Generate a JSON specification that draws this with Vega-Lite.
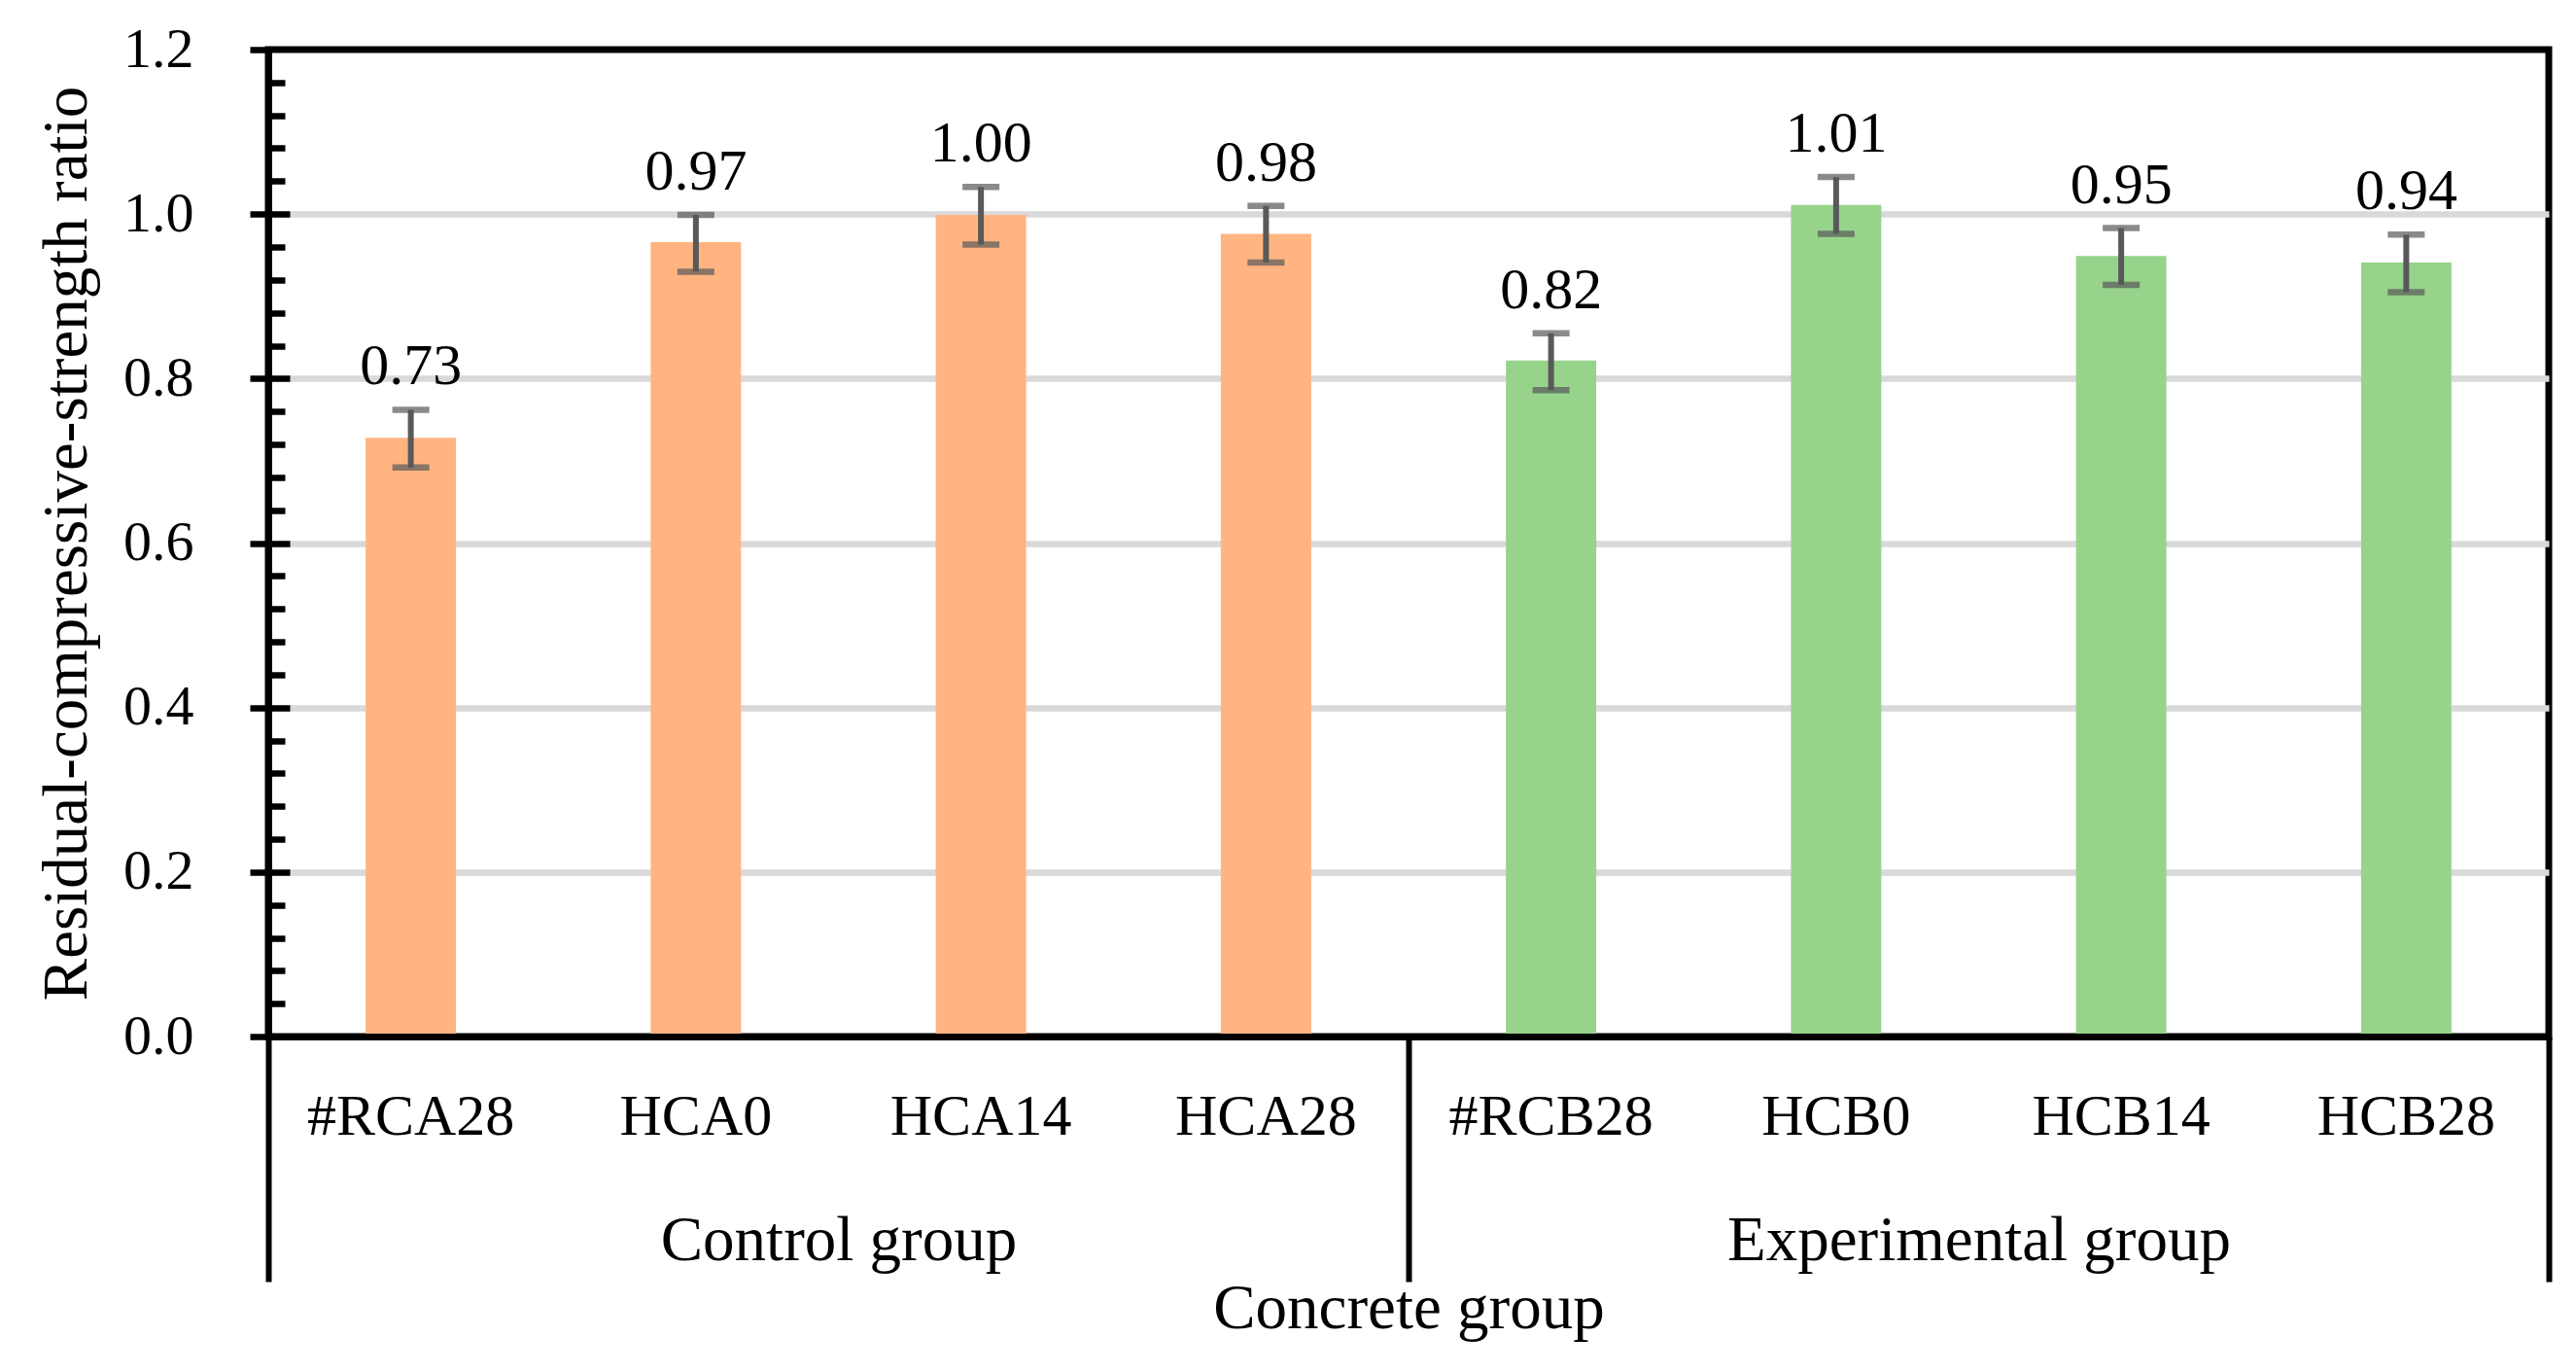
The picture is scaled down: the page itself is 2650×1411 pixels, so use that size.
{
  "$schema": "https://vega.github.io/schema/vega-lite/v6.json",
  "width": 2346,
  "height": 1015,
  "autosize": "none",
  "padding": {"left": 276, "top": 51, "right": 28, "bottom": 345},
  "background": "white",
  "config": {
    "view": {"stroke": "black", "strokeWidth": 7},
    "font": "Liberation Serif",
    "axis": {
      "labelFont": "Liberation Serif",
      "titleFont": "Liberation Serif",
      "labelColor": "black",
      "titleColor": "black",
      "titleFontWeight": "normal",
      "labelFontWeight": "normal"
    },
    "text": {"font": "Liberation Serif"}
  },
  "data": {
    "values": [
      {"cat": "#RCA28", "group": "Control group", "value": 0.728, "lo": 0.692, "hi": 0.762},
      {"cat": "HCA0", "group": "Control group", "value": 0.966, "lo": 0.930, "hi": 0.999},
      {"cat": "HCA14", "group": "Control group", "value": 0.999, "lo": 0.963, "hi": 1.033},
      {"cat": "HCA28", "group": "Control group", "value": 0.976, "lo": 0.941, "hi": 1.010},
      {"cat": "#RCB28", "group": "Experimental group", "value": 0.822, "lo": 0.786, "hi": 0.855},
      {"cat": "HCB0", "group": "Experimental group", "value": 1.011, "lo": 0.976, "hi": 1.045},
      {"cat": "HCB14", "group": "Experimental group", "value": 0.949, "lo": 0.914, "hi": 0.983},
      {"cat": "HCB28", "group": "Experimental group", "value": 0.941, "lo": 0.905, "hi": 0.975}
    ]
  },
  "layer": [
    {
      "layer": [
        {
          "mark": {"type": "bar", "width": {"band": 0.317}},
          "encoding": {
            "x": {
              "field": "cat", "type": "nominal", "sort": null,
              "scale": {"type": "band", "paddingInner": 0, "paddingOuter": 0},
              "axis": {
                "orient": "bottom", "title": null, "labelAngle": 0,
                "labelFontSize": 60, "labelPadding": 53, "labelLimit": 1000,
                "ticks": false, "domainColor": "black", "domainWidth": 7,
                "grid": false, "zindex": 1
              }
            },
            "y": {
              "field": "value", "type": "quantitative",
              "scale": {"domain": [0, 1.2], "nice": false, "zero": true},
              "axis": {
                "orient": "left",
                "values": [0, 0.2, 0.4, 0.6, 0.8, 1.0, 1.2],
                "format": ".1f",
                "labelFontSize": 58, "labelPadding": 58,
                "tickSize": 19, "tickWidth": 6.5, "tickColor": "black",
                "domainColor": "black", "domainWidth": 7,
                "grid": false,
                "title": "Residual-compressive-strength ratio",
                "titleFontSize": 65, "titlePadding": 24,
                "zindex": 1
              }
            },
            "color": {
              "field": "group", "type": "nominal",
              "scale": {"domain": ["Control group", "Experimental group"], "range": ["#FFB482", "#98D38C"]},
              "legend": null
            }
          }
        },
        {
          "mark": {"type": "rule", "color": "#595959", "strokeWidth": 6},
          "encoding": {
            "x": {"field": "cat", "type": "nominal", "sort": null},
            "y": {
              "field": "lo", "type": "quantitative",
              "axis": {
                "orient": "left",
                "values": [0.2, 0.4, 0.6, 0.8, 1.0],
                "labels": false, "domain": false,
                "grid": true, "gridColor": "#d9d9d9", "gridWidth": 6.5,
                "ticks": true, "tickSize": -22, "tickWidth": 6.5, "tickColor": "black",
                "title": null, "zindex": 0
              }
            },
            "y2": {"field": "hi"}
          }
        },
        {
          "mark": {"type": "tick", "color": "#595959", "thickness": 6.5, "size": 38, "orient": "horizontal"},
          "encoding": {
            "x": {"field": "cat", "type": "nominal", "sort": null},
            "y": {
              "field": "lo", "type": "quantitative",
              "axis": {
                "orient": "left",
                "values": [0.04, 0.08, 0.12, 0.16, 0.24, 0.28, 0.32, 0.36, 0.44, 0.48, 0.52, 0.56, 0.64, 0.68, 0.72, 0.76, 0.84, 0.88, 0.92, 0.96, 1.04, 1.08, 1.12, 1.16],
                "labels": false, "domain": false, "grid": false,
                "ticks": true, "tickSize": -17, "tickWidth": 6.5, "tickColor": "black",
                "title": null, "zindex": 1
              }
            }
          }
        },
        {
          "mark": {"type": "tick", "color": "#595959", "thickness": 6.5, "size": 38, "orient": "horizontal"},
          "encoding": {
            "x": {"field": "cat", "type": "nominal", "sort": null},
            "y": {"field": "hi", "type": "quantitative", "axis": null}
          }
        },
        {
          "mark": {"type": "text", "dy": -26, "baseline": "alphabetic", "fontSize": 60, "color": "black"},
          "encoding": {
            "x": {"field": "cat", "type": "nominal", "sort": null},
            "y": {"field": "hi", "type": "quantitative", "axis": null},
            "text": {"field": "value", "type": "quantitative", "format": ".2f"}
          }
        }
      ],
      "resolve": {"axis": {"y": "independent"}}
    },
    {
      "mark": {"type": "rule", "opacity": 0},
      "encoding": {
        "x": {
          "field": "group", "type": "nominal", "sort": null,
          "scale": {"type": "band", "paddingInner": 0, "paddingOuter": 0},
          "axis": {
            "orient": "bottom", "labelAngle": 0,
            "labelFontSize": 65, "labelPadding": -74, "labelLimit": 1000,
            "tickBand": "extent", "tickSize": 252, "tickWidth": 6, "tickColor": "black",
            "domain": false, "grid": false,
            "title": "Concrete group", "titleFontSize": 65, "titlePadding": 48,
            "zindex": 1
          }
        },
        "y": {"field": "value", "type": "quantitative", "axis": null}
      }
    }
  ],
  "resolve": {
    "scale": {"x": "independent"},
    "axis": {"x": "independent", "y": "independent"}
  }
}
